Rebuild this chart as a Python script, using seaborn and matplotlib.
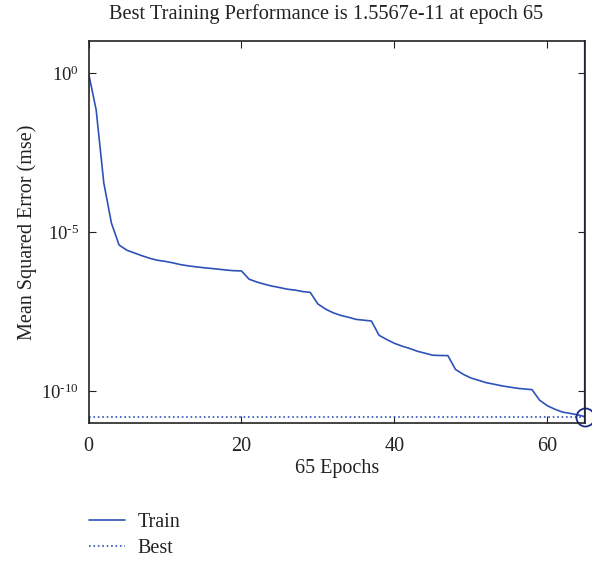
import numpy as np
import pandas as pd
import matplotlib
matplotlib.use('Agg')
import matplotlib.pyplot as plt
import seaborn as sns

# training record (mse per epoch)
epochs = list(range(66))
train_mse = [
    1.0, 6.9e-2, 3.5e-4, 1.9e-5, 3.9e-6, 2.7e-6, 2.2e-6, 1.8e-6, 1.5e-6, 1.3e-6,
    1.2e-6, 1.08e-6, 9.5e-7, 8.7e-7, 8.1e-7, 7.6e-7, 7.2e-7, 6.8e-7, 6.4e-7, 6.1e-7,
    6.0e-7, 3.3e-7, 2.7e-7, 2.3e-7, 2.0e-7, 1.8e-7, 1.6e-7, 1.5e-7, 1.35e-7, 1.27e-7,
    5.5e-8, 3.8e-8, 2.9e-8, 2.4e-8, 2.1e-8, 1.8e-8, 1.7e-8, 1.6e-8, 5.7e-9, 4.2e-9,
    3.2e-9, 2.6e-9, 2.2e-9, 1.8e-9, 1.56e-9, 1.35e-9, 1.32e-9, 1.31e-9, 4.8e-10, 3.4e-10,
    2.6e-10, 2.2e-10, 1.85e-10, 1.66e-10, 1.48e-10, 1.35e-10, 1.24e-10, 1.17e-10, 1.12e-10, 5.2e-11,
    3.5e-11, 2.7e-11, 2.2e-11, 2.0e-11, 1.8e-11, 1.5567e-11,
]
best_epoch = 65
best_perf = 1.5567e-11
x_ticks = [0, 20, 40, 60]
y_ticks = [1e0, 1e-5, 1e-10]
y_ticklabels = ['10$^{0}$', '10$^{\u2010 5}$', '10$^{\u2010 10}$']

df = pd.DataFrame({'epoch': epochs, 'mse': train_mse})

sns.set_style('ticks')
plt.rcParams['font.family'] = ['Liberation Serif', 'DejaVu Serif']
plt.rcParams['mathtext.fontset'] = 'custom'
plt.rcParams['mathtext.rm'] = 'Liberation Serif'
plt.rcParams['mathtext.it'] = 'Liberation Serif'
plt.rcParams['mathtext.default'] = 'rm'

line_blue = '#2f52b8'
dark_blue = '#1c2a8c'
text_col = '#222222'

fig = plt.figure(figsize=(5.92, 5.63), dpi=100)
ax = fig.add_axes([0.1495, 0.2487, 0.8395, 0.6783])

sns.lineplot(data=df, x='epoch', y='mse', ax=ax, color=line_blue, lw=1.2, label='Train')
ax.axhline(best_perf, color=line_blue, ls=':', lw=1.2, label='Best')
ax.axvline(best_epoch, color=dark_blue, lw=1.6)
ax.plot([best_epoch], [best_perf], marker='o', ms=13, mfc='none', mec=dark_blue, mew=1.3,
        clip_on=False)

ax.set_yscale('log')
ax.set_xlim(0, 65)
ax.set_ylim(1e-11, 1e1)
ax.set_xticks(x_ticks)
ax.set_yticks(y_ticks)
ax.set_yticklabels(y_ticklabels)
ax.yaxis.set_minor_locator(matplotlib.ticker.NullLocator())
ax.tick_params(direction='in', top=True, right=True, labelsize=14.5, length=5, width=0.8,
               colors=text_col)
ax.tick_params(axis='x', pad=10)
ax.tick_params(axis='y', pad=7, labelsize=13.5)
for s in ax.spines.values():
    s.set_linewidth(1.2)
    s.set_color(text_col)

ax.set_xlabel('65 Epochs', fontsize=14.5, labelpad=2, color=text_col)
ax.set_ylabel('Mean Squared Error (mse)', fontsize=14.5, labelpad=3, color=text_col)
fig.text(326 / 592, 1 - 14 / 563, 'Best Training Performance is 1.5567e-11 at epoch 65',
         ha='center', va='center', fontsize=14.7, color=text_col)

handles, labels = ax.get_legend_handles_labels()
ax.get_legend().remove()
fig.legend(handles, labels, loc='upper left', bbox_to_anchor=(0.137, 0.103),
           frameon=False, fontsize=14.5, handlelength=1.8, handletextpad=0.6,
           labelspacing=0.35, borderaxespad=0, labelcolor=text_col)

fig.savefig('out.png', dpi=100)
